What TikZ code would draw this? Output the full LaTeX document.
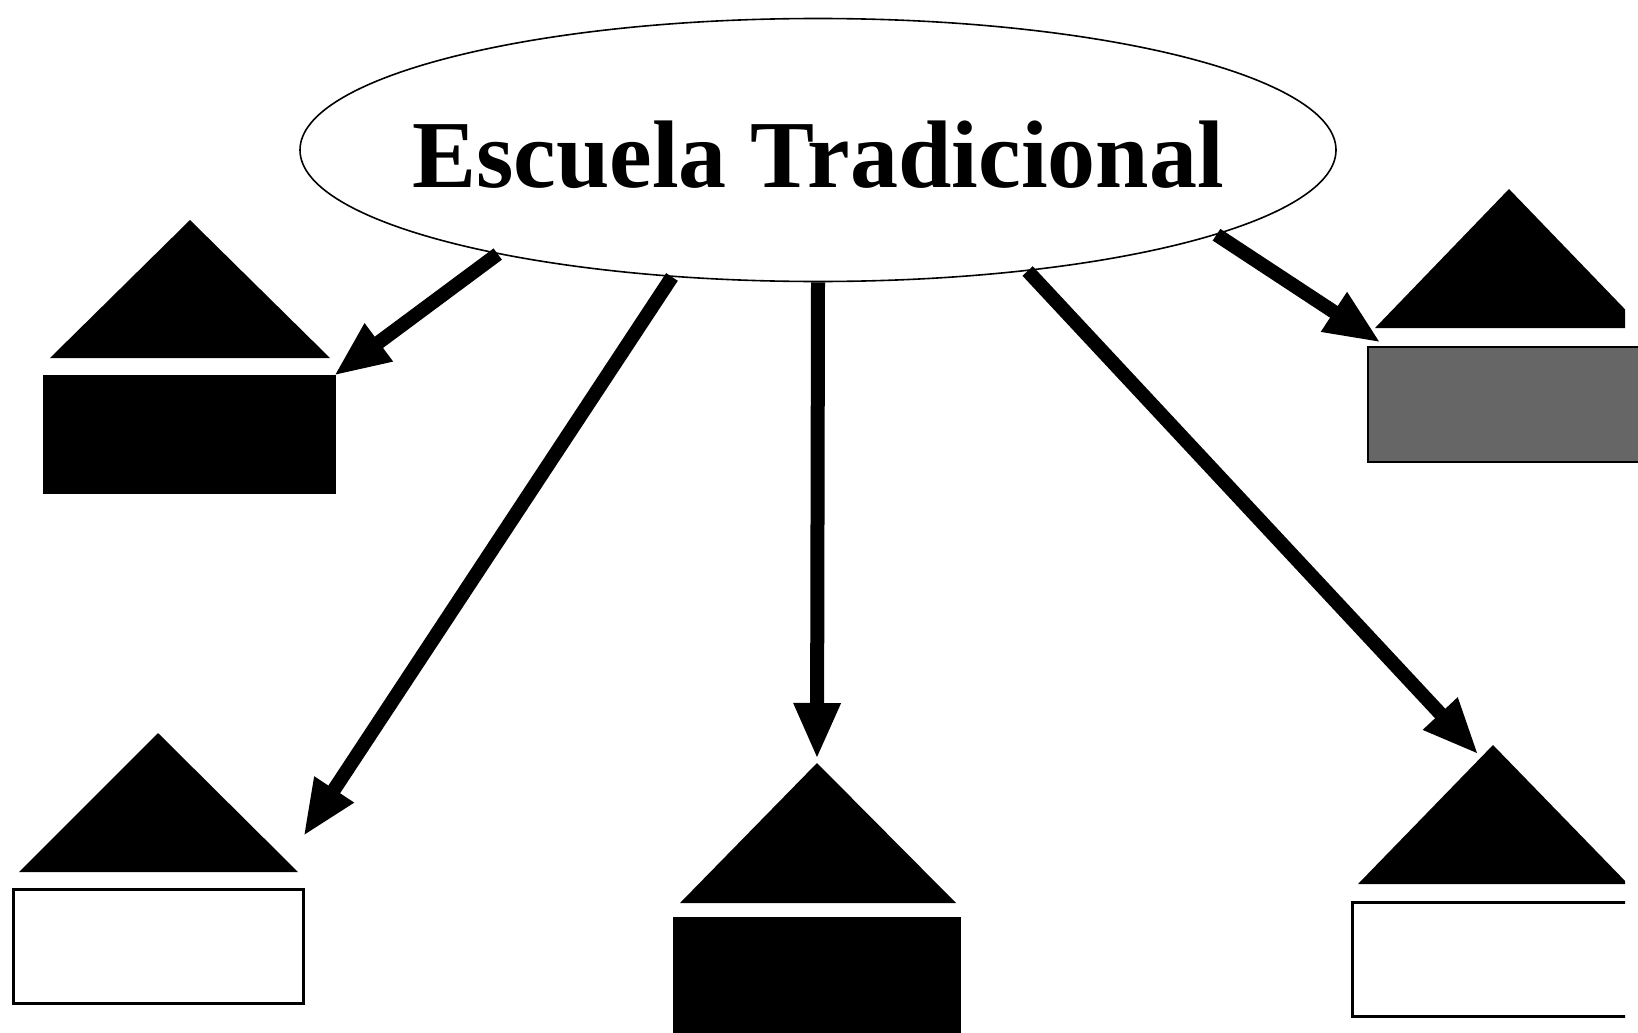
\documentclass[tikz,border=0pt]{standalone}
\usepackage{fontspec}
\setmainfont{Liberation Serif}
\usetikzlibrary{shapes.geometric, calc}

% thick arrow: shaft plus a filled head
\newcommand{\flecha}[2]{%
    \draw[line width=14pt] (#1) -- ($(#2)!40pt!(#1)$);
    \fill (#2) -- ($($(#2)!54pt!(#1)$)!24pt!90:(#2)$) -- ($($(#2)!54pt!(#1)$)!24pt!-90:(#2)$) -- cycle;}

\begin{document}
\begin{tikzpicture}[x=1pt, y=1pt,
        caja/.style={draw, rectangle, line width=3pt, minimum width=290pt, minimum height=116pt, inner sep=0pt}]
        \useasboundingbox (0,-1033) rectangle (1638,0);
        \clip (0,-1033) rectangle (1638,0);

        % Nodes
        \node (escuela) [draw, ellipse, line width=1.6pt, fill=white, minimum width=1036pt, minimum height=263pt, inner sep=0pt] at (818,-150) {};
        \node (titulo) [font=\bfseries\fontsize{96pt}{100pt}\selectfont, inner sep=0pt] at (818,-155) {Escuela Tradicional};

        \node (caja1) [caja, fill=black] at (189,-434) {};
        \node (caja2) [caja, fill=white, minimum height=114pt] at (158,-946) {};
        \node (caja3) [caja, fill=black, minimum width=285pt, minimum height=144pt] at (817,-990) {};
        \node (caja5) [caja, fill=black!60, line width=2pt, minimum height=115pt] at (1513,-404) {};

        % Roofs
        \coordinate (techo1) at (190,-220);
        \coordinate (techo3) at (817,-763);
        \coordinate (techo5) at (158,-733);
        \fill (techo1) -- ++(-140,-138) -- ++(280,0) -- cycle;
        \fill (techo3) -- ++(-137,-140) -- ++(276,0) -- cycle;
        \fill (techo5) -- ++(-139,-139) -- ++(279,0) -- cycle;

        \begin{scope}
            \clip (0,-1033) rectangle (1625,0);
            \coordinate (techo2) at (1509,-189);
            \coordinate (techo4) at (1493,-745);
            \fill (techo2) -- ++(-134,-139) -- ++(268,0) -- cycle;
            \fill (techo4) -- ++(-135,-139) -- ++(270,0) -- cycle;
            \node (caja4) [caja, fill=white, minimum height=114pt] at (1497,-959) {};
        \end{scope}

        % Arrows
        \coordinate (punta1) at (caja1.north east);
        \coordinate (punta2) at ($(caja2.north east)+(0,53)$);
        \coordinate (punta3) at ($(techo3)+(0,6)$);
        \coordinate (punta4) at ($(techo4)+(-16,-8)$);
        \coordinate (punta5) at ($(caja5.north west)+(12,4)$);
        \flecha{escuela.198}{punta1}
        \flecha{escuela.221}{punta2}
        \flecha{escuela.270}{punta3}
        \flecha{escuela.330}{punta4}
        \flecha{escuela.348}{punta5}
    \end{tikzpicture}
\end{document}
